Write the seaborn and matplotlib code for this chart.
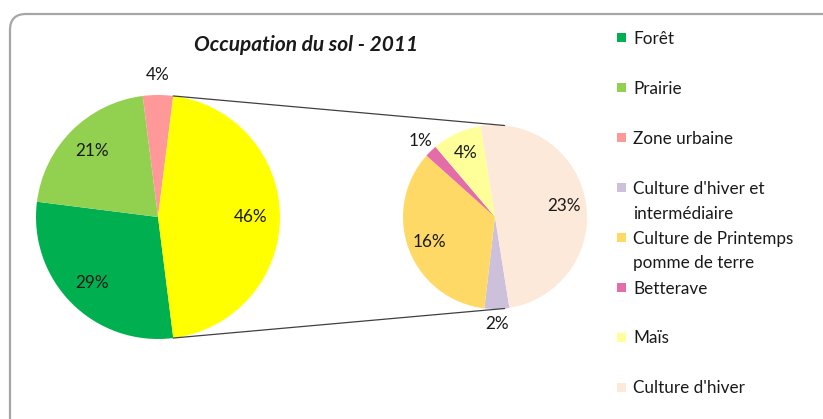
import numpy as np
import matplotlib.pyplot as plt
from matplotlib.patches import Rectangle, FancyBboxPatch
import seaborn as sns

# data
main_labels = ["Forêt", "Prairie", "Zone urbaine", "Cultures"]
main_values = [29, 21, 4, 46]
main_colors = ["#00B050", "#92D050", "#FF9999", "#FFFF00"]

sub_labels = ["Culture d'hiver et\nintermédiaire", "Culture de Printemps\npomme de terre",
              "Betterave", "Maïs", "Culture d'hiver"]
sub_values = [2, 16, 1, 4, 23]
sub_colors = ["#CCC0DA", "#FFD966", "#E46CA8", "#FFFF99", "#FDE9D9"]

title = "Occupation du sol - 2011"

sns.set_theme(style="white")
plt.rcParams['font.family'] = ['Lato', 'DejaVu Sans']

W, H = 823, 419
fig = plt.figure(figsize=(W / 100, H / 100), dpi=100)
ax = fig.add_axes([0, 0, 1, 1])

main_c, main_r = (158, H - 217), 122
sub_c, sub_r = (495, H - 217), 92

# the grouped slice sits centered on the right, slices go clockwise like Excel
half = main_values[-1] / sum(main_values) * 180
w_main, _ = ax.pie(main_values, colors=main_colors, center=main_c, radius=main_r,
                   startangle=-half, counterclock=False, wedgeprops=dict(linewidth=0))
w_sub, _ = ax.pie(sub_values, colors=sub_colors, center=sub_c, radius=sub_r,
                  startangle=-81, counterclock=False, wedgeprops=dict(linewidth=0))


def put_labels(wedges, values, c, r):
    for w, v in zip(wedges, values):
        span = w.theta2 - w.theta1
        mid = np.deg2rad((w.theta1 + w.theta2) / 2)
        d = 1.16 if span < 20 else 0.76
        ax.text(c[0] + d * r * np.cos(mid), c[1] + d * r * np.sin(mid), f"{v}%",
                ha='center', va='center', fontsize=12.3, color="#1a1a1a")


put_labels(w_main, main_values, main_c, main_r)
put_labels(w_sub, sub_values, sub_c, sub_r)

# connector lines between the two pies
a = np.deg2rad(half)
b = np.deg2rad(84)
for s in (1, -1):
    ax.plot([main_c[0] + main_r * np.cos(a), sub_c[0] + sub_r * np.cos(b)],
            [main_c[1] + s * main_r * np.sin(a), sub_c[1] + s * sub_r * np.sin(b)],
            color="#404040", lw=0.9)

# legend, one slot per entry like Excel
leg_labels = main_labels[:3] + sub_labels
leg_colors = main_colors[:3] + sub_colors
for i, (lab, col) in enumerate(zip(leg_labels, leg_colors)):
    yc = H - (38 + 49.9 * i)
    ax.add_patch(Rectangle((617, yc - 4.5), 9, 9, color=col, lw=0))
    ax.text(633, yc + 7, lab, ha='left', va='top', fontsize=12.3,
            linespacing=1.68, color="#1a1a1a")

ax.text(306, H - 45, title, ha='center', va='center', fontsize=15,
        fontweight='bold', fontstyle='italic', color="#1a1a1a")

# rounded chart frame
ax.add_patch(FancyBboxPatch((10, -40), 840, H - 14 + 40,
                            boxstyle="round,pad=0,rounding_size=16",
                            fc='none', ec='#A6A6A6', lw=1.6, clip_on=False))

ax.set_xlim(0, W)
ax.set_ylim(0, H)
ax.set_aspect('auto')
ax.axis('off')

fig.savefig("out.png", dpi=100, facecolor="white")
